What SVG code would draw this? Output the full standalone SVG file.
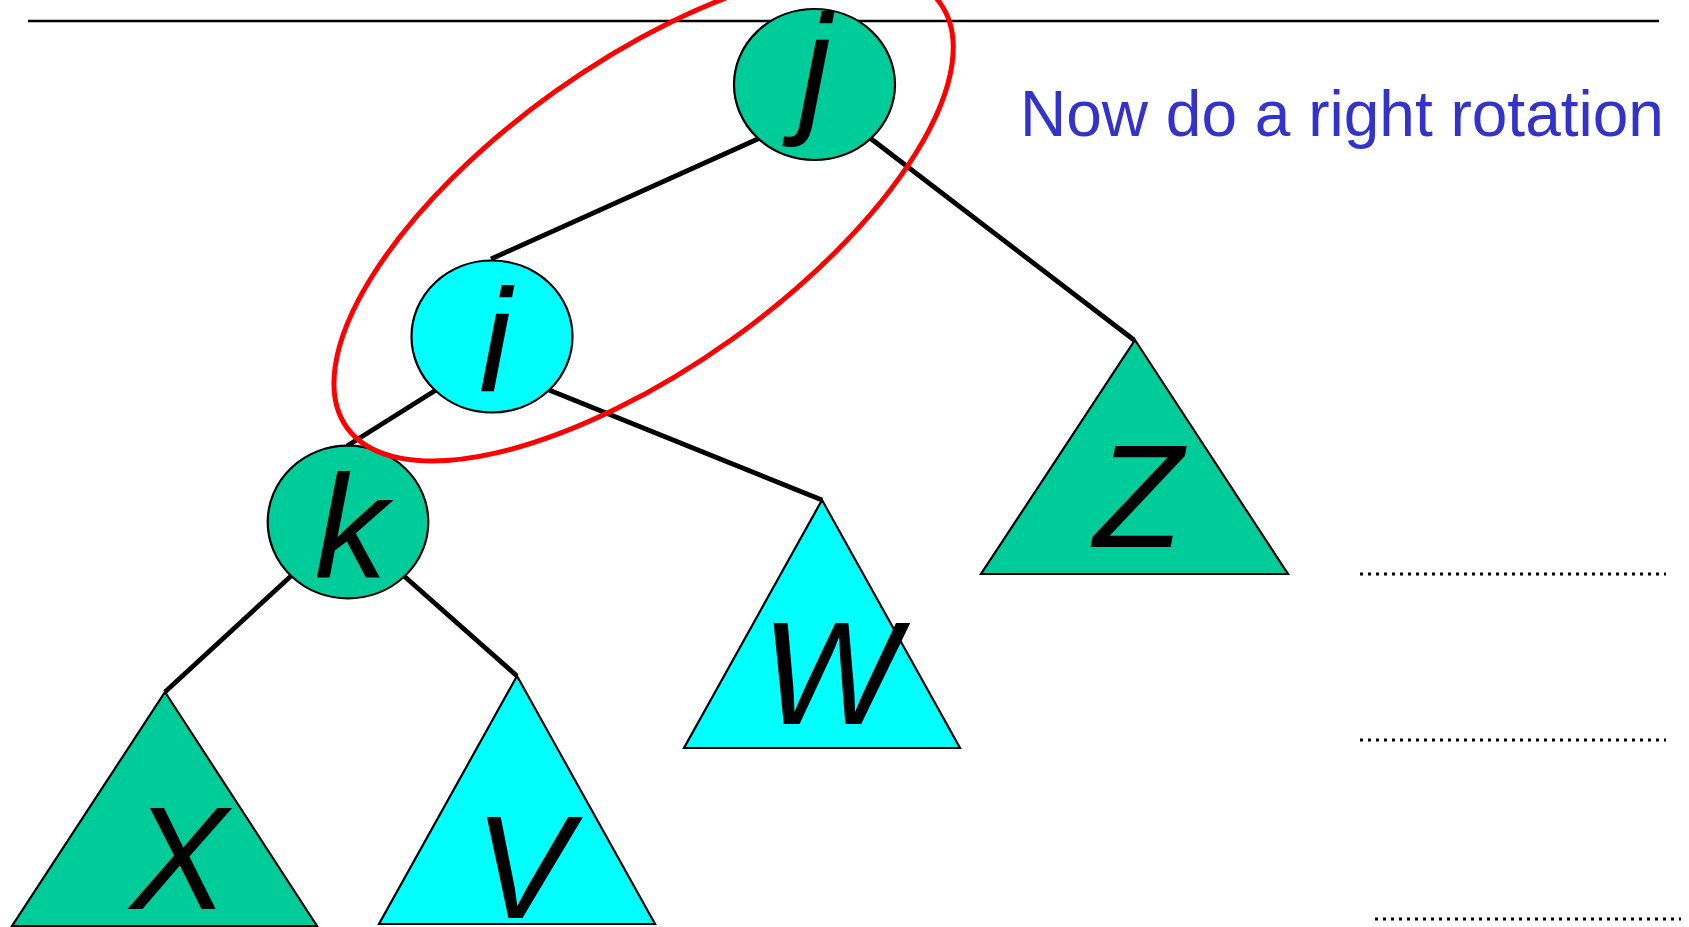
<svg xmlns="http://www.w3.org/2000/svg" width="1689" height="927" viewBox="0 0 1689 927">
<style>
.edge{stroke:#000;stroke-width:4.8;fill:none}
.node{stroke:#000;stroke-width:2.2}
.green{fill:#00CC99}
.cyan{fill:#00FFFF}
.lbl{font-family:"Liberation Sans",Arial,sans-serif;font-style:italic;font-size:146px;fill:#000;text-anchor:middle}
.dots{stroke:#000;stroke-width:3;stroke-dasharray:3 5;fill:none}
</style>
<rect width="1689" height="927" fill="#fff"/>
<line x1="28" y1="21" x2="1659" y2="21" stroke="#000" stroke-width="2.4"/>
<g id="connectors">
<line class="edge" x1="760" y1="138" x2="491" y2="259"/>
<line class="edge" x1="870" y1="138" x2="1134" y2="340"/>
<line class="edge" x1="436" y1="390" x2="347" y2="446"/>
<line class="edge" x1="549" y1="390" x2="822" y2="500"/>
<line class="edge" x1="291" y1="576" x2="165" y2="692"/>
<line class="edge" x1="404" y1="576" x2="517" y2="676"/>
</g>
<g id="node-j">
<ellipse class="node green" cx="814.5" cy="84.5" rx="80.5" ry="75.5"/>
<text class="lbl" x="815" y="117">j</text>
</g>
<g id="node-i">
<ellipse class="node cyan" cx="492" cy="336.5" rx="80.5" ry="76"/>
<text class="lbl" x="495" y="391">i</text>
</g>
<g id="node-k">
<ellipse class="node green" cx="348" cy="522" rx="80.3" ry="76.3"/>
<text class="lbl" x="351" y="577">k</text>
</g>
<g id="tree-X">
<polygon class="node green" points="165,692 317,926 12,926"/>
<text class="lbl" x="179" y="909">X</text>
</g>
<g id="tree-V">
<polygon class="node cyan" points="517,676 655,924 379,924"/>
<text class="lbl" x="523" y="918">V</text>
</g>
<g id="tree-W">
<polygon class="node cyan" points="822,500 960,748 684,748"/>
<text class="lbl" x="830" y="724">W</text>
</g>
<g id="tree-Z">
<polygon class="node green" points="1135,340 1288,574 981,574"/>
<text class="lbl" x="1138" y="547">Z</text>
</g>
<ellipse id="highlight" cx="643.6" cy="215.4" rx="364.7" ry="152.2" transform="rotate(-35.55 643.6 215.4)" fill="none" stroke="#FF0000" stroke-width="5"/>
<text id="caption" x="1020" y="136" font-family="Liberation Sans, Arial, sans-serif" font-size="64" fill="#3333CC">Now do a right rotation</text>
<g id="dotted-lines">
<line class="dots" x1="1360" y1="574" x2="1666" y2="574"/>
<line class="dots" x1="1360" y1="740" x2="1666" y2="740"/>
<line class="dots" x1="1375" y1="919" x2="1681" y2="919"/>
</g>
</svg>
